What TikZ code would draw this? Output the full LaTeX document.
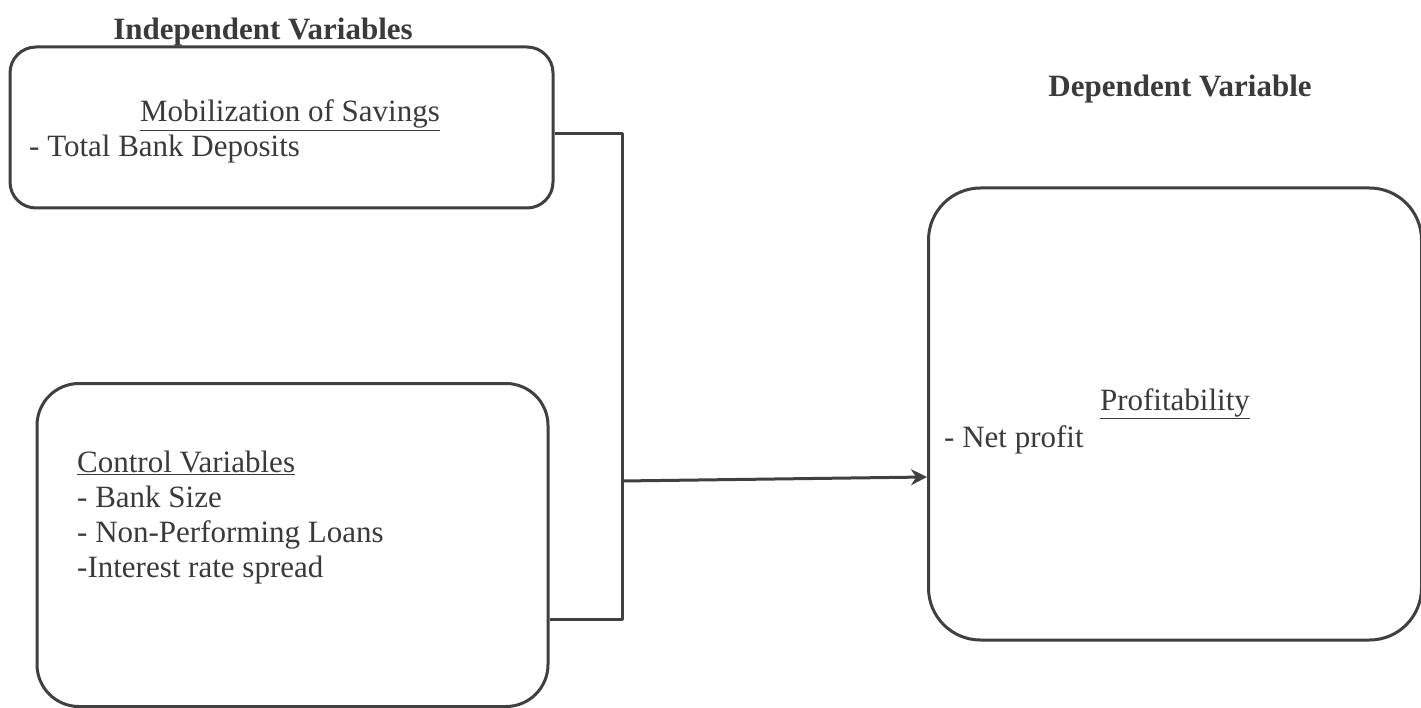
\documentclass[tikz,border=0pt]{standalone}
\usepackage{fontspec}
\setmainfont{Liberation Serif}
\usetikzlibrary{arrows.meta}
\definecolor{ink}{HTML}{404040}
\definecolor{txt}{HTML}{3A3A3A}
\begin{document}
\begin{tikzpicture}[x=1pt,y=-1pt,
  box/.style={draw=ink,line width=3pt,rectangle,inner sep=0pt},
  lbl/.style={text=txt,inner sep=0pt,font=\fontsize{31}{35}\selectfont},
  head/.style={lbl,font=\fontsize{31}{35}\selectfont\bfseries},
  wire/.style={draw=ink,line width=3pt}]
\useasboundingbox[fill=white] (0,0) rectangle (1421,708);
% boxes
\node[box,rounded corners=26pt,minimum width=543pt,minimum height=161pt] (box1) at (281.5,127.5) {};
\node[box,rounded corners=42pt,minimum width=511pt,minimum height=323pt] (box2) at (292.5,545) {};
\node[box,rounded corners=52pt,minimum width=493pt,minimum height=452pt] (box3) at (1175,414) {};
% headings
\node[head,anchor=base] (h1) at (263,40) {Independent Variables};
\node[head,anchor=base] (h2) at (1180,97) {Dependent Variable};
% box1 text
\node[lbl,anchor=base] (t1) at (290,122) {\underline{Mobilization of Savings}};
\node[lbl,anchor=base west] (t2) at (29,157) {- Total Bank Deposits};
% box2 text
\node[lbl,anchor=base west] (c1) at (77,472) {\underline{Control Variables}};
\node[lbl,anchor=base west] (c2) at (77,507) {- Bank Size};
\node[lbl,anchor=base west] (c3) at (77,542) {- Non-Performing Loans};
\node[lbl,anchor=base west] (c4) at (77,577) {-Interest rate spread};
% box3 text
\node[lbl,anchor=base] (p1) at (1175,410) {\underline{Profitability}};
\node[lbl,anchor=base west] (p2) at (944,447) {- Net profit};
% connectors
\coordinate (jt) at (622,134);
\coordinate (jb) at (622,619);
\coordinate (jm) at (622,481);
\draw[wire,line join=round] (box1.east |- jt) -- (jt) -- (jb) -- (box2.east |- jb);
\draw[wire,-{Stealth[length=16pt,width=16pt]}] (jm) -- (box3.west |- 0,477);
\end{tikzpicture}
\end{document}
